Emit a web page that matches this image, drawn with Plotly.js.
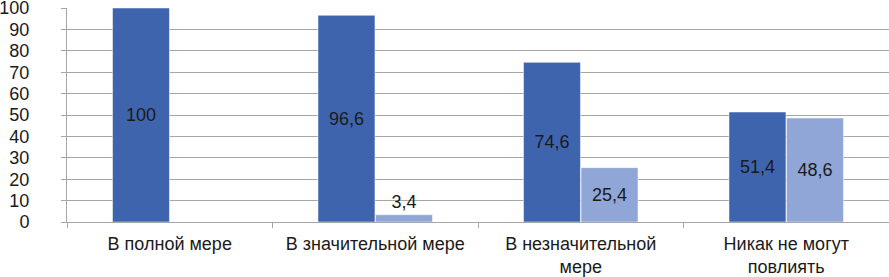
<!DOCTYPE html>
<html><head><meta charset="utf-8">
<script src="https://cdn.plot.ly/plotly-3.0.1.min.js"></script>
<style>html,body{margin:0;padding:0;background:#fff}#chart{width:889px;height:277px}</style>
</head><body><div id="chart"></div>
<script>
var categories = ["В полной мере", "В значительной мере", "В незначительной<br>мере", "Никак не могут<br>повлиять"];
var series1 = [100, 96.6, 74.6, 51.4];
var series2 = [null, 3.4, 25.4, 48.6];
var yTicks = [0,10,20,30,40,50,60,70,80,90,100];

function fmt(v){ return v==null ? "" : String(v).replace(".", ","); }

var FONT = "Liberation Sans, Arial, sans-serif";
var common = {type:"bar", x:categories, textposition:"auto", insidetextanchor:"middle",
  textfont:{family:FONT, size:18, color:"#1a1a1a"},
  outsidetextfont:{family:FONT, size:18, color:"#1a1a1a"},
  insidetextfont:{family:FONT, size:18, color:"#1a1a1a"},
  cliponaxis:false, hoverinfo:"none"};
var t1 = Object.assign({}, common, {y:series1, text:series1.map(fmt), marker:{color:"#3F64AE", line:{color:"#ffffff", width:0.5}}});
var t2 = Object.assign({}, common, {y:series2, text:series2.map(fmt), marker:{color:"#8FA6D7", line:{color:"#ffffff", width:0.5}}});

var layout = {
  width:889, height:277,
  margin:{l:67, r:0, t:8, b:55},
  paper_bgcolor:"#ffffff", plot_bgcolor:"#ffffff",
  showlegend:false, barmode:"group", bargap:0.44, bargroupgap:0.01,
  font:{family:FONT, size:18, color:"#1a1a1a"},
  xaxis:{type:"category", showline:true, linecolor:"#A6A6A6", linewidth:1, ticks:"outside", ticklen:5, tickcolor:"#A6A6A6", tickson:"boundaries", showgrid:false, tickfont:{size:18}, ticklabelstandoff:5, automargin:false},
  yaxis:{range:[0,100], tickvals:yTicks, ticktext:yTicks.map(String), showline:true, linecolor:"#A6A6A6", linewidth:1, ticks:"outside", ticklen:5, tickcolor:"#A6A6A6", showgrid:true, gridcolor:"#A6A6A6", gridwidth:1, zeroline:false, tickfont:{size:18}, ticklabelstandoff:28, ticklabeloverflow:"allow", automargin:false}
};
Plotly.newPlot("chart", [t1, t2], layout, {staticPlot:true, displayModeBar:false});
</script></body></html>
